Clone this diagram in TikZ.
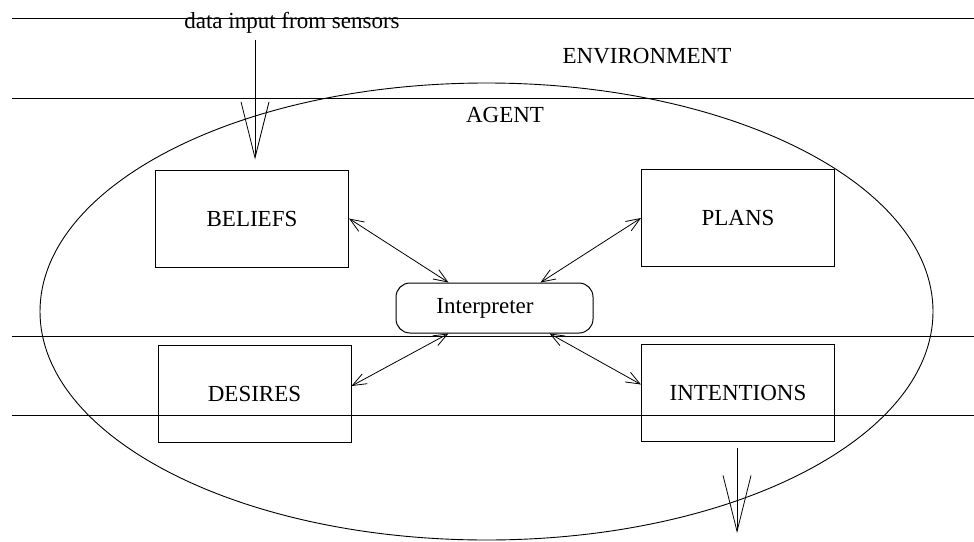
\documentclass[tikz,border=0pt]{standalone}
\usepackage{fontspec}
\setmainfont{Liberation Serif}
\usetikzlibrary{arrows.meta}
\begin{document}
\begin{tikzpicture}[x=1pt,y=-1pt,
  every node/.style={font=\fontsize{23}{27}\selectfont, inner sep=0pt},
  scanline/.style={line width=0.8pt},
  boxnode/.style={draw, line width=1pt, minimum width=193pt, minimum height=97pt},
  interp/.style={draw, line width=1pt, rounded corners=14pt, minimum width=197pt, minimum height=50pt},
  link/.style={line width=0.8pt, {Straight Barb[length=14pt,width=11pt]}-{Straight Barb[length=14pt,width=11pt]}},
  bigarrow/.style={line width=0.8pt, -{Straight Barb[length=56pt,width=28pt]}}
]
\useasboundingbox (0,0) rectangle (974,541);
% horizontal lines
\draw[scanline] (12,18) -- (974,18);
\draw[scanline] (12,98) -- (974,98);
\draw[scanline] (12,336) -- (974,336);
\draw[scanline] (12,415) -- (974,415);
% ellipse (agent)
\draw[line width=0.9pt] (486.5,311.5) ellipse [x radius=446.5pt, y radius=228.5pt];
% labels
\node[anchor=base] (dat) at (292,28) {data input from sensors};
\node[anchor=base] (env) at (647,63) {ENVIRONMENT};
\node[anchor=base] (agt) at (505,122) {AGENT};
% boxes
\node[boxnode] (B) at (252,218.5) {BELIEFS};
\node[boxnode] (P) at (738,218) {PLANS};
\node[boxnode] (D) at (254.5,394) {DESIRES};
\node[boxnode] (N) at (738,392.5) {INTENTIONS};
\node[interp] (I) at (494.5,308) {\hspace*{-19pt}Interpreter};
% links
\draw[link] (B.east) -- ([xshift=-46pt]I.north);
\draw[link] (P.west) -- ([xshift=46pt]I.north);
\draw[link] ([yshift=8pt]D.east) -- ([xshift=-46pt]I.south);
\draw[link] ([yshift=8pt]N.west) -- ([xshift=55pt]I.south);
% input / output arrows
\coordinate (din) at (255,40);
\coordinate (dout) at (737,533);
\draw[bigarrow, shorten >=10pt] (din) -- (din |- B.north);
\draw[bigarrow, shorten <=6pt] (dout |- N.south) -- (dout);
\end{tikzpicture}
\end{document}
